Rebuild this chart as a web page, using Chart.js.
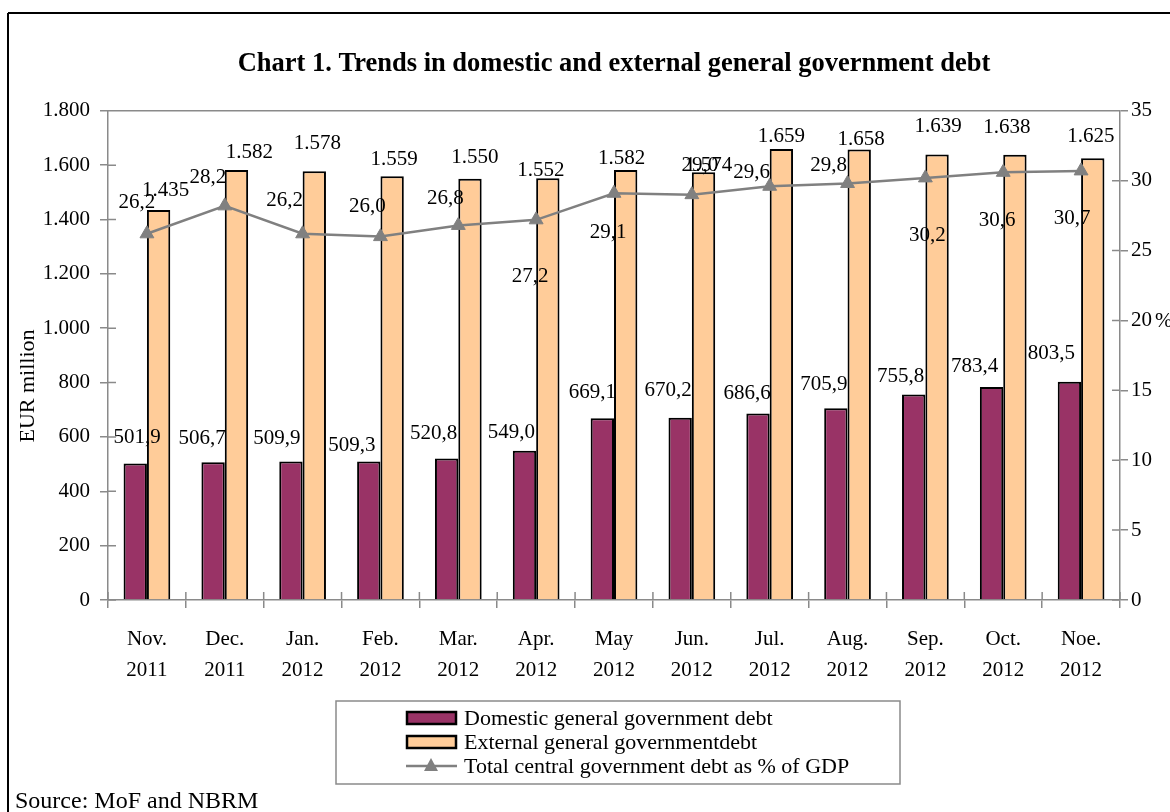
<!DOCTYPE html>
<html>
<head>
<meta charset="utf-8">
<title>Chart 1. Trends in domestic and external general government debt</title>
<script src="https://cdn.jsdelivr.net/npm/chart.js@4.4.1/dist/chart.umd.min.js"></script>
<style>
  html, body { margin: 0; padding: 0; background: #ffffff; }
  canvas { display: block; }
</style>
</head>
<body>
<canvas id="debtChart" width="1170" height="812"></canvas>
<script>
// Months on the category axis (two-line labels)
const months = [
  ['Nov.', '2011'], ['Dec.', '2011'], ['Jan.', '2012'], ['Feb.', '2012'],
  ['Mar.', '2012'], ['Apr.', '2012'], ['May', '2012'], ['Jun.', '2012'],
  ['Jul.', '2012'], ['Aug.', '2012'], ['Sep.', '2012'], ['Oct.', '2012'],
  ['Noe.', '2012']
];

// EUR million
const domesticDebt = [501.9, 506.7, 509.9, 509.3, 520.8, 549.0, 669.1, 670.2, 686.6, 705.9, 755.8, 783.4, 803.5];
const externalDebt = [1435, 1582, 1578, 1559, 1550, 1552, 1582, 1574, 1659, 1658, 1639, 1638, 1625];

// % of GDP
const debtToGdp = [26.2, 28.2, 26.2, 26.0, 26.8, 27.2, 29.1, 29.0, 29.6, 29.8, 30.2, 30.6, 30.7];

// Axis tick values
const eurTicks = [0, 200, 400, 600, 800, 1000, 1200, 1400, 1600, 1800];
const pctTicks = [0, 5, 10, 15, 20, 25, 30, 35];

// Value-label nudges [dx, dy] in px, relative to each bar top / point
const domesticLabelNudge = [[2,-26],[-11,-24],[-14,-23],[-17,-16],[-13,-25],[-13,-18],[-10,-26],[-12,-27],[-11,-20],[-12,-24],[-13,-18],[-17,-21],[-18,-28]];
const externalLabelNudge = [[7,-20],[13,-18],[3,-28],[2,-17],[5,-21],[-7,-8],[-4,-12],[5,-7],[0,-13],[2,-10],[1,-28],[-8,-27],[-2,-22]];
const gdpLabelNudge = [[-10,-31],[-17,-28],[-18,-33],[-13,-30],[-13,-27],[-6,57],[-6,39],[8,-29],[-18,-14],[-19,-18],[2,58],[-6,48],[-9,48]];

const SERIF = "'Liberation Serif', 'Times New Roman', serif";
const AXIS_GREY = '#8a8a8a';

const fmtThousands = v => String(Math.round(v)).replace(/\B(?=(\d{3})+(?!\d))/g, '.');
const fmtDecimal = v => v.toFixed(1).replace('.', ',');

// Frame, plot box, inward tick halves, axis captions, legend and source
const decorations = {
  id: 'decorations',
  beforeDraw(chart) {
    const ctx = chart.ctx;
    ctx.save();
    ctx.fillStyle = '#ffffff';
    ctx.fillRect(0, 0, chart.width, chart.height);
    ctx.strokeStyle = '#000000';
    ctx.lineWidth = 2;
    ctx.beginPath();
    ctx.moveTo(8, 13); ctx.lineTo(chart.width, 13);
    ctx.moveTo(8, 13); ctx.lineTo(8, chart.height);
    ctx.stroke();
    ctx.restore();
  },
  afterDraw(chart) {
    const ctx = chart.ctx;
    const { left, right, top, bottom } = chart.chartArea;
    ctx.save();
    ctx.strokeStyle = AXIS_GREY;
    ctx.lineWidth = 1.5;
    ctx.beginPath();
    // top edge of the plot box
    ctx.moveTo(left, top); ctx.lineTo(right, top);
    // tick marks cross the axes: inner halves
    chart.scales.y.ticks.forEach(t => {
      const py = chart.scales.y.getPixelForValue(t.value);
      ctx.moveTo(left, py); ctx.lineTo(left + 8, py);
    });
    chart.scales.y1.ticks.forEach(t => {
      const py = chart.scales.y1.getPixelForValue(t.value);
      ctx.moveTo(right - 8, py); ctx.lineTo(right, py);
    });
    const n = chart.data.labels.length;
    for (let i = 0; i <= n; i++) {
      const px = left + i * (right - left) / n;
      ctx.moveTo(px, bottom - 8); ctx.lineTo(px, bottom);
    }
    ctx.stroke();

    // axis captions
    ctx.fillStyle = '#000000';
    ctx.font = '22px ' + SERIF;
    ctx.textAlign = 'center';
    ctx.textBaseline = 'middle';
    ctx.save();
    ctx.translate(28, 386);
    ctx.rotate(-Math.PI / 2);
    ctx.fillText('EUR million', 0, 0);
    ctx.restore();
    ctx.font = '21px ' + SERIF;
    ctx.textAlign = 'left';
    ctx.fillText('%', 1155, chart.scales.y1.getPixelForValue(20) + 1);

    // legend box
    const lx = 336, ly = 701, lw = 564, lh = 83;
    ctx.strokeStyle = AXIS_GREY;
    ctx.lineWidth = 1.5;
    ctx.strokeRect(lx, ly, lw, lh);
    const rows = [718, 742, 766];
    ctx.font = '22px ' + SERIF;
    ctx.textAlign = 'left';
    ctx.textBaseline = 'middle';
    chart.data.datasets.forEach((ds, i) => {
      const ry = rows[i];
      if (ds.type === 'line') {
        ctx.strokeStyle = ds.borderColor;
        ctx.lineWidth = 2.5;
        ctx.beginPath();
        ctx.moveTo(406, ry); ctx.lineTo(457, ry);
        ctx.stroke();
        ctx.fillStyle = ds.pointBackgroundColor;
        ctx.beginPath();
        ctx.moveTo(431, ry - 8);
        ctx.lineTo(438, ry + 5);
        ctx.lineTo(424, ry + 5);
        ctx.closePath();
        ctx.fill();
      } else {
        ctx.fillStyle = ds.backgroundColor;
        ctx.fillRect(407, ry - 6, 49, 12);
        ctx.strokeStyle = ds.borderColor;
        ctx.lineWidth = 2.5;
        ctx.strokeRect(407, ry - 6, 49, 12);
      }
      ctx.fillStyle = '#000000';
      ctx.fillText(ds.label, 464, ry + 1);
    });

    // source line
    ctx.font = '24px ' + SERIF;
    ctx.textBaseline = 'alphabetic';
    ctx.fillText('Source: MoF and NBRM', 15, 808);
    ctx.restore();
  }
};

// Value labels next to every bar and point
const valueLabels = {
  id: 'valueLabels',
  afterDatasetsDraw(chart) {
    const ctx = chart.ctx;
    ctx.save();
    ctx.font = '21px ' + SERIF;
    ctx.fillStyle = '#000000';
    ctx.textAlign = 'center';
    ctx.textBaseline = 'middle';
    chart.data.datasets.forEach((ds, di) => {
      const meta = chart.getDatasetMeta(di);
      meta.data.forEach((el, i) => {
        const [dx, dy] = ds.labelNudge[i];
        ctx.fillText(ds.labelFormat(ds.data[i]), el.x + dx, el.y + dy);
      });
    });
    ctx.restore();
  }
};

const gridStyle = { drawOnChartArea: false, drawTicks: true, tickLength: 8, color: AXIS_GREY, lineWidth: 1.5 };
const borderStyle = { color: AXIS_GREY, width: 1.5 };

new Chart(document.getElementById('debtChart'), {
  data: {
    labels: months,
    datasets: [
      {
        type: 'bar',
        label: 'Domestic general government debt',
        data: domesticDebt,
        backgroundColor: '#993366',
        borderColor: '#000000',
        borderWidth: 2,
        yAxisID: 'y',
        order: 1,
        labelNudge: domesticLabelNudge,
        labelFormat: fmtDecimal
      },
      {
        type: 'bar',
        label: 'External general governmentdebt',
        data: externalDebt,
        backgroundColor: '#FFCC99',
        borderColor: '#000000',
        borderWidth: 2,
        yAxisID: 'y',
        order: 1,
        labelNudge: externalLabelNudge,
        labelFormat: fmtThousands
      },
      {
        type: 'line',
        label: 'Total central government debt as % of GDP',
        data: debtToGdp,
        borderColor: '#808080',
        borderWidth: 2.5,
        pointStyle: 'triangle',
        pointRadius: 8,
        pointBackgroundColor: '#808080',
        pointBorderColor: '#808080',
        pointBorderWidth: 1,
        tension: 0,
        yAxisID: 'y1',
        order: 0,
        labelNudge: gdpLabelNudge,
        labelFormat: fmtDecimal
      }
    ]
  },
  options: {
    responsive: false,
    animation: false,
    events: [],
    datasets: {
      bar: { categoryPercentage: 0.6, barPercentage: 1.0 }
    },
    layout: { padding: 0 },
    plugins: {
      legend: { display: false },
      tooltip: { enabled: false },
      title: {
        display: true,
        fullSize: false,
        text: 'Chart 1. Trends in domestic and external general government debt',
        color: '#000000',
        font: { family: SERIF, size: 26.5, weight: 'bold', lineHeight: 1.2 },
        padding: { top: 48, bottom: 31 }
      }
    },
    scales: {
      x: {
        offset: true,
        grid: Object.assign({ offset: true }, gridStyle),
        border: borderStyle,
        ticks: {
          color: '#000000',
          font: { family: SERIF, size: 21, lineHeight: 1.48 },
          padding: 16,
          maxRotation: 0,
          autoSkip: false
        },
        afterFit(scale) { scale.height = 212; }
      },
      y: {
        position: 'left',
        min: 0,
        max: 1800,
        afterBuildTicks(scale) { scale.ticks = eurTicks.map(v => ({ value: v })); },
        grid: gridStyle,
        border: borderStyle,
        ticks: {
          color: '#000000',
          font: { family: SERIF, size: 21 },
          padding: 10,
          callback: v => fmtThousands(v)
        },
        afterFit(scale) { scale.width = 108; }
      },
      y1: {
        position: 'right',
        min: 0,
        max: 35,
        afterBuildTicks(scale) { scale.ticks = pctTicks.map(v => ({ value: v })); },
        grid: gridStyle,
        border: borderStyle,
        ticks: {
          color: '#000000',
          font: { family: SERIF, size: 21 },
          padding: 3,
          callback: v => String(v)
        },
        afterFit(scale) { scale.width = 50; }
      }
    }
  },
  plugins: [decorations, valueLabels]
});
</script>
</body>
</html>
